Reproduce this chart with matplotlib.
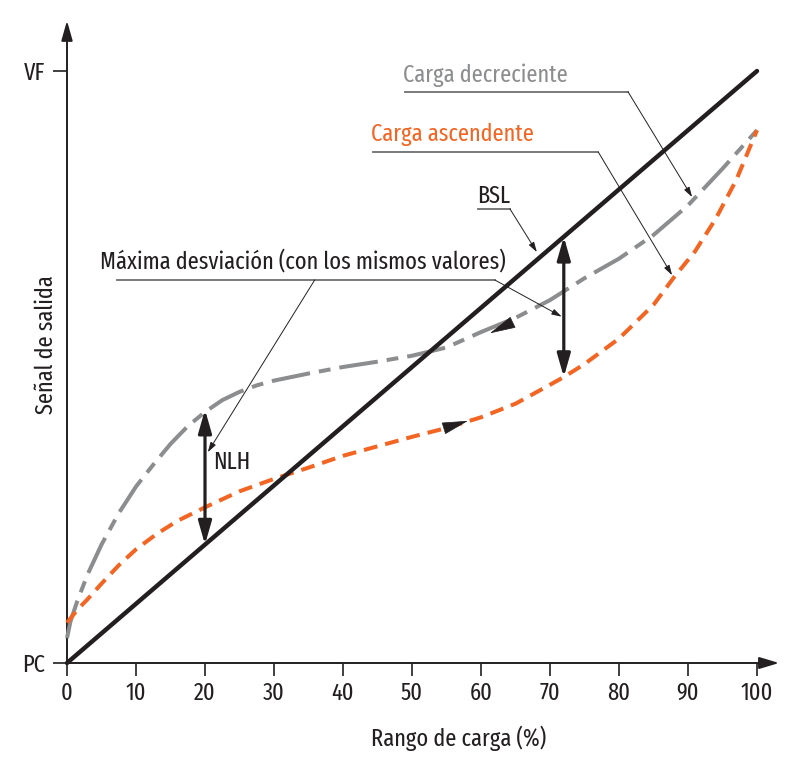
import matplotlib
matplotlib.use("Agg")
import matplotlib.pyplot as plt
from matplotlib.patches import ArrowStyle

plt.rcParams['font.family'] = ['Fira Sans Extra Condensed', 'Fira Sans Condensed', 'PT Sans Narrow', 'DejaVu Sans']
plt.rcParams['font.weight'] = 'normal'
plt.rcParams['lines.scale_dashes'] = False

# ---- data ----
x_ticks = [0, 10, 20, 30, 40, 50, 60, 70, 80, 90, 100]
y_ticks = [0, 100]
y_tick_labels = ["PC", "VF"]

bsl_x = [0, 100]
bsl_y = [0, 100]

asc_x = [0, 1.5, 3, 5, 7.5, 10, 13, 16, 20, 25, 30, 35, 40, 45, 50, 55, 60,
         65, 70, 72, 75, 80, 85, 88, 91, 94, 97, 100]
asc_y = [6.8, 9.0, 10.8, 13.4, 16.5, 19.2, 21.8, 24.0, 26.3, 29.0, 31.1, 33.0,
         35.0, 36.6, 38.2, 39.7, 41.5, 43.8, 47.0, 48.3, 50.5, 54.8, 60.5, 65.2,
         69.5, 75.0, 81.6, 90.0]

dec_x = [0, 0.5, 1.5, 3, 5, 7.5, 10, 12.5, 15, 17.5, 20, 22.5, 25, 27.5, 30, 35,
         40, 45, 50, 55, 60, 65, 70, 75, 80, 85, 90, 95, 100]
dec_y = [4.2, 7.0, 10.5, 15.0, 20.0, 25.3, 29.8, 33.5, 37.0, 40.0, 42.4, 44.4,
         45.8, 46.9, 47.7, 48.9, 50.0, 50.9, 51.9, 53.3, 55.9, 58.3, 61.3, 65.0,
         68.3, 72.3, 77.3, 83.5, 90.0]

nlh_x = 20
max_dev_x = 72

# ---- styling ----
BLACK = '#231f20'
ORANGE = '#f26522'
GRAY = '#8c8d8f'
LINEGRAY = '#6d6e71'
FS = 17.5

fig = plt.figure(figsize=(7.91, 7.73), dpi=100)
ax = fig.add_axes([67/791, (773-663)/773, 690/791, (663-71)/773])
ax.set_xlim(0, 100)
ax.set_ylim(0, 100)
for s in ax.spines.values():
    s.set_visible(False)
ax.patch.set_alpha(0)

ax.set_xticks(x_ticks)
ax.set_xticklabels([str(v) for v in x_ticks])
ax.set_yticks(y_ticks)
ax.set_yticklabels(y_tick_labels)
ax.tick_params(axis='x', direction='out', length=9.5, width=1.2, color=BLACK,
               pad=4, labelsize=FS, labelcolor=BLACK)
ax.tick_params(axis='y', direction='out', length=10, width=1.2, color=BLACK,
               pad=6, labelsize=FS, labelcolor=BLACK)

# axes with arrows
ax.annotate('', xy=(103.2, 0), xytext=(0, 0), annotation_clip=False,
            arrowprops=dict(arrowstyle=ArrowStyle('-|>', head_length=12, head_width=3.6),
                            mutation_scale=1, color=BLACK, lw=1.4, shrinkA=0, shrinkB=0))
ax.annotate('', xy=(0, 108.5), xytext=(0, 0), annotation_clip=False,
            arrowprops=dict(arrowstyle=ArrowStyle('-|>', head_length=12, head_width=3.4),
                            mutation_scale=1, color=BLACK, lw=1.4, shrinkA=0, shrinkB=0))

# curves
ax.plot(dec_x, dec_y, color=GRAY, lw=2.9, dashes=(28, 6.5, 8.5, 6.5),
        solid_capstyle='butt', dash_capstyle='butt', clip_on=False, zorder=3)
ax.plot(asc_x, asc_y, color=ORANGE, lw=2.9, dashes=(10, 5.8),
        dash_capstyle='butt', clip_on=False, zorder=3)
ax.plot(bsl_x, bsl_y, color=BLACK, lw=3.2, solid_capstyle='round', clip_on=False, zorder=4)

# direction arrowheads on the curves
head = ArrowStyle('-|>', head_length=17, head_width=4.0)
ax.annotate('', xy=(58.1, 40.9), xytext=(55.6, 40.0),
            arrowprops=dict(arrowstyle=head, mutation_scale=1, color=BLACK, lw=0.5,
                            shrinkA=0, shrinkB=0), zorder=5)
ax.annotate('', xy=(61.3, 55.7), xytext=(63.8, 57.1),
            arrowprops=dict(arrowstyle=head, mutation_scale=1, color=BLACK, lw=0.5,
                            shrinkA=0, shrinkB=0), zorder=5)

# double-headed deviation arrows
dbl = ArrowStyle('<|-|>', head_length=14, head_width=4.0)
ax.annotate('', xy=(nlh_x, 42.8), xytext=(nlh_x, nlh_x),
            arrowprops=dict(arrowstyle=dbl, mutation_scale=1, color=BLACK, lw=2.3,
                            shrinkA=0, shrinkB=0), zorder=6)
ax.annotate('', xy=(max_dev_x, max_dev_x), xytext=(max_dev_x, 48.3),
            arrowprops=dict(arrowstyle=dbl, mutation_scale=1, color=BLACK, lw=2.3,
                            shrinkA=0, shrinkB=0), zorder=6)

# labels with underline + leader
lead = ArrowStyle('-|>', head_length=6, head_width=1.8)

def leader(p0, p1):
    ax.annotate('', xy=p1, xytext=p0, annotation_clip=False,
                arrowprops=dict(arrowstyle=lead, mutation_scale=1, color=BLACK, lw=0.7,
                                shrinkA=0, shrinkB=0), zorder=7)

def underline(x0, x1, y):
    ax.plot([x0, x1], [y, y], color=LINEGRAY, lw=1.3, clip_on=False, zorder=7)

ax.text(48.7, 98.1, "Carga decreciente", color=GRAY, fontsize=FS, ha='left', va='baseline')
underline(49.0, 81.3, 96.5)
leader((81.3, 96.5), (90.6, 78.7))

ax.text(44.1, 88.2, "Carga ascendente", color=ORANGE, fontsize=FS, ha='left', va='baseline')
underline(44.3, 77.0, 86.3)
leader((77.0, 86.3), (87.7, 65.5))

ax.text(59.4, 77.7, "BSL", color=BLACK, fontsize=FS, ha='left', va='baseline')
underline(59.6, 64.2, 76.7)
leader((64.2, 76.7), (68.1, 69.4))

ax.text(4.8, 66.7, "Máxima desviación (con los mismos valores)", color=BLACK,
        fontsize=FS, ha='left', va='baseline')
underline(7.2, 62.0, 64.7)
leader((62.0, 64.7), (71.7, 58.5))
leader((35.9, 64.7), (20.4, 35.6))

ax.text(21.2, 32.8, "NLH", color=BLACK, fontsize=FS, ha='left', va='baseline')

ax.text(56.7, -12.7, "Rango de carga (%)", color=BLACK, fontsize=FS,
        ha='center', va='center')
ax.text(-3.0, 53.7, "Señal de salida", color=BLACK, fontsize=FS,
        ha='center', va='center', rotation=90)

fig.savefig("out.png", dpi=100)
